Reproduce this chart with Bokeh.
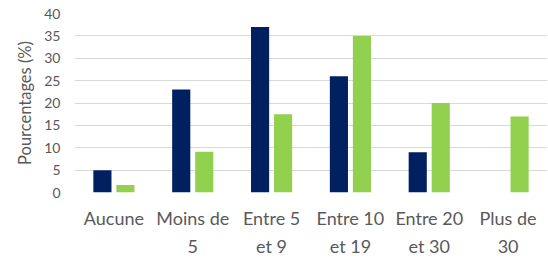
from bokeh.plotting import figure
from bokeh.models import FactorRange, ColumnDataSource, Range1d, FixedTicker
from bokeh.transform import dodge
from bokeh.embed import file_html
from bokeh.resources import INLINE

categories = ["Aucune", "Moins de\n5", "Entre 5\net 9", "Entre 10\net 19", "Entre 20\net 30", "Plus de\n30"]
series_a = [5, 23, 37, 26, 9, 0]
series_b = [1.7, 9.1, 17.5, 35, 20, 17]
y_ticks = [0, 5, 10, 15, 20, 25, 30, 35, 40]

src = ColumnDataSource(dict(cat=categories, a=series_a, b=series_b))

p = figure(width=548, height=260, output_backend="svg", toolbar_location=None,
           x_range=FactorRange(factors=categories, range_padding=0),
           y_range=Range1d(0, 40),
           min_border_left=74, min_border_right=1, min_border_top=13, min_border_bottom=64)
p.outline_line_color = None

p.vbar(x=dodge("cat", -0.146, range=p.x_range), top="a", width=0.23, source=src,
       fill_color="#002060", line_color=None)
p.vbar(x=dodge("cat", 0.146, range=p.x_range), top="b", width=0.23, source=src,
       fill_color="#92D050", line_color=None)

p.xgrid.grid_line_color = None
p.ygrid.grid_line_color = "#D9D9D9"
p.ygrid.grid_line_width = 1
p.yaxis.ticker = FixedTicker(ticks=y_ticks)

font = "Lato"
txt = "#595959"
for ax in (p.xaxis, p.yaxis):
    ax.axis_line_color = None
    ax.major_tick_line_color = None
    ax.minor_tick_line_color = None
    ax.major_tick_out = 0
    ax.major_tick_in = 0
    ax.major_label_text_font = font
    ax.major_label_text_color = txt

p.yaxis.major_label_text_font_size = "14px"
p.yaxis.major_label_standoff = 14
p.yaxis.axis_label = "Pourcentages (%)"
p.yaxis.axis_label_text_font = font
p.yaxis.axis_label_text_font_size = "16.5px"
p.yaxis.axis_label_text_font_style = "normal"
p.yaxis.axis_label_text_color = txt
p.yaxis.axis_label_standoff = 6

p.xaxis.major_label_text_font_size = "18px"
p.xaxis.major_label_standoff = 14
p.xaxis.major_label_text_line_height = 1.3

open("out.html", "w").write(file_html(p, INLINE))
